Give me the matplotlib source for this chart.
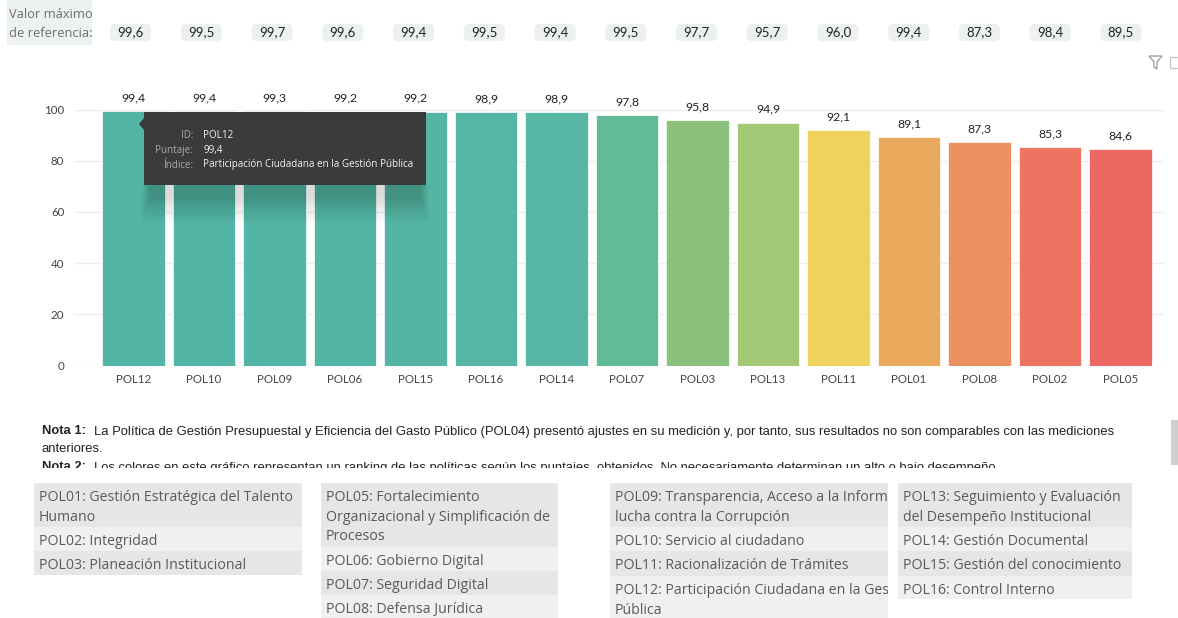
import matplotlib
matplotlib.use('Agg')
import matplotlib.pyplot as plt
from matplotlib.patches import Rectangle, FancyBboxPatch, Polygon
from matplotlib.transforms import Bbox, TransformedBbox

W, H = 1178, 618

ids = ['POL12', 'POL10', 'POL09', 'POL06', 'POL15', 'POL16', 'POL14', 'POL07',
       'POL03', 'POL13', 'POL11', 'POL01', 'POL08', 'POL02', 'POL05']
scores = [99.4, 99.4, 99.3, 99.2, 99.2, 98.9, 98.9, 97.8,
          95.8, 94.9, 92.1, 89.1, 87.3, 85.3, 84.6]
ref_max = [99.6, 99.5, 99.7, 99.6, 99.4, 99.5, 99.4, 99.5,
           97.7, 95.7, 96.0, 99.4, 87.3, 98.4, 89.5]
bar_colors = ['#52B5A6', '#52B5A6', '#53B5A6', '#53B5A6', '#54B5A5', '#56B6A5', '#57B6A4',
              '#62BB97', '#8AC27D', '#A2C875', '#EFD35C', '#EBA95D', '#ED905F', '#EE7462', '#EC6863']

col1 = [('POL01: Gestión Estratégica del Talento\nHumano', 44), ('POL02: Integridad', 24),
        ('POL03: Planeación Institucional', 24)]
col2 = [('POL05: Fortalecimiento\nOrganizacional y Simplificación de\nProcesos', 64),
        ('POL06: Gobierno Digital', 24), ('POL07: Seguridad Digital', 24),
        ('POL08: Defensa Jurídica', 24)]
col3 = [('POL09: Transparencia, Acceso a la Información y\nlucha contra la Corrupción', 44),
        ('POL10: Servicio al ciudadano', 24), ('POL11: Racionalización de Trámites', 25),
        ('POL12: Participación Ciudadana en la Gestión\nPública', 42)]
col4 = [('POL13: Seguimiento y Evaluación\ndel Desempeño Institucional', 44),
        ('POL14: Gestión Documental', 24), ('POL15: Gestión del conocimiento', 25),
        ('POL16: Control Interno', 23)]

nota1 = 'La Política de Gestión Presupuestal y Eficiencia del Gasto Público (POL04) presentó ajustes en su medición y, por tanto, sus resultados no son comparables con las mediciones'
nota1b = 'anteriores.'
nota2 = 'Los colores en este gráfico representan un ranking de las políticas según los puntajes  obtenidos. No necesariamente determinan un alto o bajo desempeño.'


def comma(v):
    return f'{v:.1f}'.replace('.', ',')


fig = plt.figure(figsize=(W / 100, H / 100), dpi=100, facecolor='white')

# bar chart, placed in pixels
left, right, top, bottom = 74, 1165, 109.5, 365.5
ax = fig.add_axes([left / W, 1 - bottom / H, (right - left) / W, (bottom - top) / H])
x = list(range(len(ids)))
ax.bar(x, scores, width=0.893, color=bar_colors, edgecolor='white', linewidth=0.5, zorder=2)
ax.set_xlim((left - 133.5) / 70.5, (right - 133.5) / 70.5)
ax.set_ylim(0, 100)
ax.set_xticks(x)
ax.set_xticklabels(ids)
ax.set_yticks([0, 20, 40, 60, 80, 100])
ax.tick_params(length=0, labelsize=8.3, labelcolor='#444444', pad=6)
ax.tick_params(axis='y', pad=7)
for t in ax.get_xticklabels() + ax.get_yticklabels():
    t.set_fontfamily('Lato')
ax.grid(axis='y', color='#EEEEEE', linewidth=1, zorder=0)
ax.set_axisbelow(True)
for s in ax.spines.values():
    s.set_visible(False)
for xi, v in zip(x, scores):
    ax.annotate(comma(v), (xi, v), xytext=(0, 5.5), textcoords='offset points', ha='center', va='bottom',
                fontsize=8.8, color='#222222', family='Lato', annotation_clip=False)

# overlay in pixel coordinates for the report furniture
ov = fig.add_axes([0, 0, 1, 1], facecolor='none')
ov.set_xlim(0, W)
ov.set_ylim(H, 0)
ov.axis('off')

# reference row
ov.add_patch(Rectangle((7, 0), 85, 45, color='#ECF1F1', lw=0))
ov.text(9, 14, 'Valor máximo', fontsize=9.3, color='#6E6E6E', family='Open Sans', va='center')
ov.text(9, 33.5, 'de referencia:', fontsize=9.3, color='#6E6E6E', family='Open Sans', va='center')
for i, v in enumerate(ref_max):
    cx = 130.6 + 70.74 * i
    ov.add_patch(FancyBboxPatch((cx - 18.5, 26), 37, 13, boxstyle='round,pad=0,rounding_size=3',
                                mutation_aspect=1, fc='#EDF0F1', ec='#EDF0F1', lw=3))
    ov.text(cx, 32.5, comma(v), fontsize=9.5, color='#222222', family='Lato', ha='center', va='center')

# filter icon and clipped focus icon
ov.add_patch(Polygon([(1149, 56), (1162, 56), (1157, 62), (1157, 69), (1154, 67), (1154, 62)],
                     closed=True, fc='none', ec='#9A9A9A', lw=0.9))
ov.add_patch(Rectangle((1170, 57), 10, 11, fc='none', ec='#C4C4C4', lw=0.9))

# tooltip with its soft shadow
for k in range(18):
    ov.add_patch(Rectangle((141 + k * 0.5, 185), 288 - k * 1.0, 38 - k * 1.5, color='black', alpha=0.009, lw=0))
ov.add_patch(Rectangle((144, 112), 282, 73, color='#3A3C3C', lw=0))
ov.add_patch(Polygon([(144, 118), (139, 124), (144, 130)], closed=True, color='#3A3C3C', lw=0))
tip_rows = [('ID:', 'POL12', 134), ('Puntaje:', comma(scores[0]), 149),
            ('Índice:', 'Participación Ciudadana en la Gestión Pública', 164)]
for name, val, y in tip_rows:
    ov.text(193, y + 1, name, fontsize=7.1, color='#A8A8A8', family='Open Sans', ha='right', va='center')
    ov.text(203, y + 1, val, fontsize=7.1, color='#F2F2F2', family='Open Sans', ha='left', va='center')


def clipped(tx, box):
    # ax.text sets its own clip to the axes patch, so replace it afterwards
    tx.set_clip_path(None)
    tx.set_clip_box(TransformedBbox(box, ov.transData))
    tx.set_clip_on(True)


# notes, cut by their scroll box
note_box = Bbox([[0, 415], [1165, 468]])
note_kw = dict(fontsize=9.4, color='#222222', family='Liberation Sans', va='center')
clipped(ov.text(42, 431.5, 'Nota 1:', fontweight='bold', **note_kw), note_box)
clipped(ov.text(93.5, 431.5, nota1, **note_kw), note_box)
clipped(ov.text(42, 449.5, nota1b, **note_kw), note_box)
clipped(ov.text(42, 467.5, 'Nota 2:', fontweight='bold', **note_kw), note_box)
clipped(ov.text(93.5, 467.5, nota2, **note_kw), note_box)
ov.add_patch(Rectangle((1171, 420), 7, 45, color='#CFCFCF', lw=0))


# glossary tables
def table(rows, x0, x1, y0):
    y = y0
    for i, (label, h) in enumerate(rows):
        ov.add_patch(Rectangle((x0, y), x1 - x0, h, color='#E6E6E6' if i % 2 == 0 else '#F0F0F0', lw=0))
        for j, line in enumerate(label.split('\n')):
            tx = ov.text(x0 + 5, y + 14.5 + j * 19.7, line, fontsize=10.15, color='#5A5A5A', family='Open Sans',
                         va='center')
            clipped(tx, Bbox([[x0, y], [x1, y + h]]))
        y += h


table(col1, 34, 302, 483)
table(col2, 321, 558, 483)
table(col3, 610, 888, 483)
table(col4, 898, 1132, 483)

fig.savefig('out.png', dpi=100)
